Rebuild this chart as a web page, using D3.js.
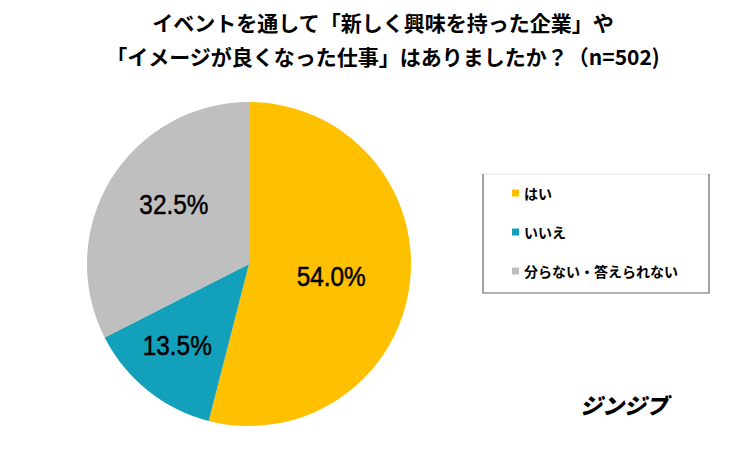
<!DOCTYPE html>
<html>
<head>
<meta charset="utf-8">
<script src="https://cdn.jsdelivr.net/npm/d3@7"></script>
<style>
  body { margin: 0; background: #fff; }
  svg { display: block; }
</style>
</head>
<body>
<svg id="chart" width="732" height="459"></svg>
<script>
// data
const categories = ["はい", "いいえ", "分らない・答えられない"];
const values = [54.0, 13.5, 32.5];
const colors = ["#FFC000", "#13A0BA", "#BFBFBF"];
const titleLines = [
  "イベントを通して「新しく興味を持った企業」や",
  "「イメージが良くなった仕事」はありましたか？（n=502)"
];

const width = 732, height = 459;
const cx = 249, cy = 264, radius = 162;
const jp = "'Noto Sans CJK JP', 'Noto Sans', sans-serif";

const svg = d3.select("#chart");

svg.append("rect").attr("width", width).attr("height", height).attr("fill", "#fff");

// title
svg.append("g")
  .selectAll("text")
  .data(titleLines)
  .join("text")
  .attr("x", 383)
  .attr("y", (d, i) => 31 + i * 34)
  .attr("text-anchor", "middle")
  .attr("font-family", jp)
  .attr("font-weight", "bold")
  .attr("font-size", "21px")
  .attr("fill", "#000")
  .text(d => d);

const data = categories.map((c, i) => ({ name: c, value: values[i], color: colors[i] }));

const pie = d3.pie().sort(null).value(d => d.value);
const arcs = pie(data);
const arc = d3.arc().innerRadius(0).outerRadius(radius);

const g = svg.append("g").attr("transform", `translate(${cx},${cy})`);

g.selectAll("path")
  .data(arcs)
  .join("path")
  .attr("d", arc)
  .attr("fill", d => d.data.color);

// percent labels (narrow look: squeeze horizontally)
const labelArc = d3.arc().innerRadius(radius * 0.58).outerRadius(radius * 0.58);
const labelShift = [[-11, 0], [-13, 8], [5, -11]];

g.selectAll("g.pct")
  .data(arcs)
  .join("g")
  .attr("class", "pct")
  .attr("transform", (d, i) => {
    const c = labelArc.centroid(d);
    return `translate(${c[0] + labelShift[i][0]},${c[1] + labelShift[i][1]}) scale(0.87,1)`;
  })
  .append("text")
  .attr("text-anchor", "middle")
  .attr("y", 10)
  .attr("font-family", "'Liberation Sans', Arial, sans-serif")
  .attr("font-size", "28px")
  .attr("fill", "#000")
  .attr("stroke", "#000")
  .attr("stroke-width", 0.5)
  .text(d => d.data.value.toFixed(1) + "%");

// legend
const lg = svg.append("g").attr("transform", "translate(483,174)");
const lw = 226, lh = 119;
lg.append("rect").attr("width", lw).attr("height", lh).attr("fill", "#fff");
lg.append("line").attr("x1", 0).attr("y1", 0).attr("x2", lw).attr("y2", 0)
  .attr("stroke", "#e4e4e4").attr("stroke-width", 1);
lg.append("path")
  .attr("d", `M0,0V${lh}H${lw}V0`)
  .attr("fill", "none")
  .attr("stroke", "#666")
  .attr("stroke-width", 1.2);

const rowY = d3.scalePoint().domain(categories).range([19, 97]);

const item = lg.selectAll("g.item")
  .data(data)
  .join("g")
  .attr("class", "item")
  .attr("transform", d => `translate(0,${rowY(d.name)})`);

item.append("rect")
  .attr("x", 29).attr("y", -3.5)
  .attr("width", 7).attr("height", 7)
  .attr("fill", d => d.color);

item.append("text")
  .attr("x", 41)
  .attr("y", 0)
  .attr("dominant-baseline", "central")
  .attr("font-family", jp)
  .attr("font-weight", "bold")
  .attr("font-size", "14px")
  .attr("fill", "#000")
  .text(d => d.name);

// logo
svg.append("text")
  .attr("x", 624)
  .attr("y", 414)
  .attr("text-anchor", "middle")
  .attr("font-family", jp)
  .attr("font-weight", "900")
  .attr("font-style", "italic")
  .attr("font-size", "22px")
  .attr("fill", "#000")
  .text("ジンジブ");
</script>
</body>
</html>
